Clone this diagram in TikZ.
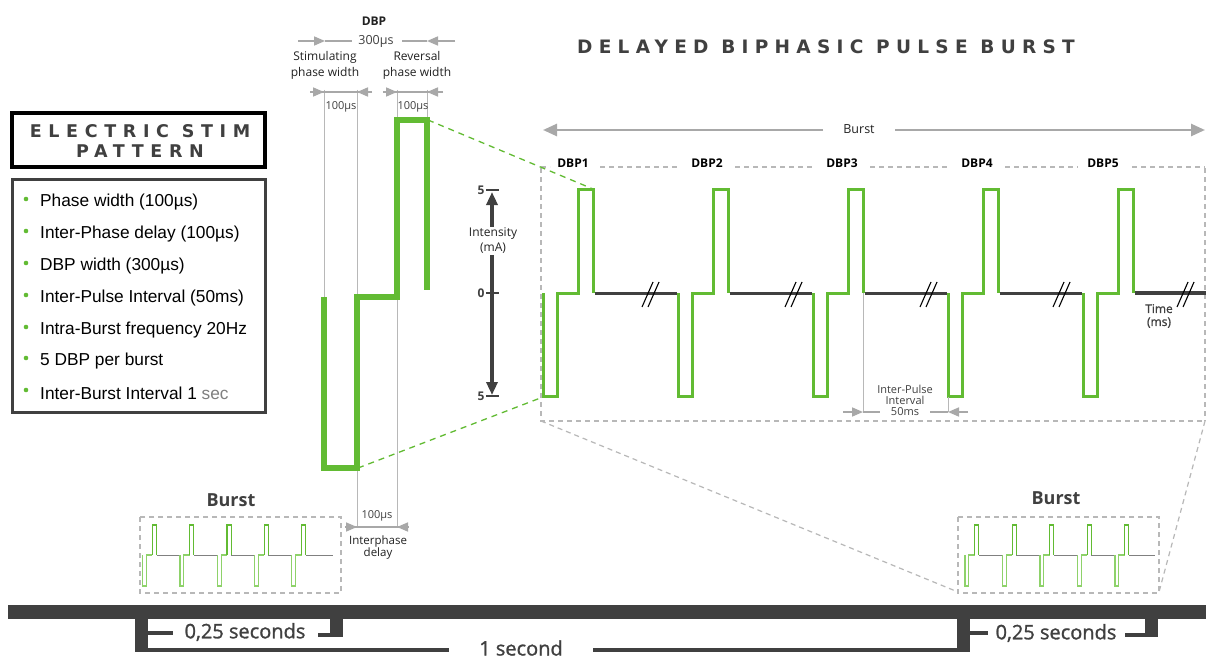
\documentclass[tikz,border=0pt]{standalone}
\usepackage{fontspec}
\setmainfont{Open Sans}
\newfontfamily\arialf{Liberation Sans}
\newfontfamily\titlef[LetterSpace=38]{DejaVu Sans}
\newfontfamily\titleg[LetterSpace=34]{DejaVu Sans}
\newfontfamily\osemi[FakeBold=1.2]{Open Sans}
\usetikzlibrary{arrows.meta}
\definecolor{grn}{HTML}{62BB33}
\definecolor{lgrn}{HTML}{8ED26A}
\definecolor{dk}{HTML}{404040}
\definecolor{lg}{HTML}{A8A8A8}
\definecolor{gl}{HTML}{B8B8B8}
\definecolor{txt}{HTML}{222222}
\newcommand\fs[2]{\fontsize{#1}{#2}\selectfont}
\begin{document}
\begin{tikzpicture}[x=1pt,y=-1pt,
  lbl/.style={text=txt, inner sep=0pt, align=center},
  guide/.style={draw=gl, line width=1pt},
  dimline/.style={draw=lg, line width=1.6pt},
  dimarrow/.style={draw=lg, line width=1.6pt, -{Triangle[length=11pt,width=9pt]}},
  wave/.style={draw=grn, line width=3pt, line join=miter},
  bigwave/.style={draw=grn, line width=5.5pt, line join=miter},
  base/.style={draw=dk, line width=3pt},
  gdash/.style={draw=gl, line width=1.2pt, dash pattern=on 5pt off 4pt},
  greendash/.style={draw=grn, line width=1.3pt, dash pattern=on 6pt off 5pt},
  brk/.style={draw=black, line width=1.1pt},
  smallwave/.style={draw=grn, line width=1.1pt},
  smallbase/.style={draw=gray, line width=1pt},
  bar/.style={fill=dk}]
\useasboundingbox (0,0) rectangle (1206,658);
\fill[white] (0,0) rectangle (1206,658);

% ---------- left panel ----------
\node[draw=black, line width=4pt, minimum width=253pt, minimum height=54pt, inner sep=0pt] (ttlbox) at (138.5,140) {};
\node[lbl, text=dk, font={\titlef\bfseries\fs{17.5}{20}}] (ttltxt) at (140,141) {ELECTRIC STIM\\PATTERN};
\node[draw=dk, line width=3pt, minimum width=253pt, minimum height=233pt, inner sep=0pt] (lstbox) at (138.5,295.5) {};
\foreach \yy/\tx [count=\k] in {202/Phase width (100µs), 234/Inter-Phase delay (100µs), 266/DBP width (300µs), 298/Inter-Pulse Interval (50ms), 330/Intra-Burst frequency 20Hz, 361/5 DBP per burst}{
  \fill[grn] (26,\yy-3) circle (2.3);
  \node[lbl, anchor=west, text=black, font={\arialf\fs{17.3}{20}}] (item\k) at (40,\yy) {\tx};
}
\fill[grn] (26,390) circle (2.3);
\node[lbl, anchor=west, text=black, font={\arialf\fs{17.3}{20}}] (item7) at (40,393) {Inter-Burst Interval 1 \textcolor{gray}{sec}};

% ---------- DBP detail ----------
\node[lbl, font={\bfseries\fs{12}{14}}] (dbpt) at (374,21) {DBP};
\node[lbl, text=dk, font={\fs{12.5}{14}}] (w300) at (376,41) {300µs};
\draw[dimarrow] (298,41) -- (325,41);
\draw[dimline] (325,41) -- (352,41);
\draw[dimarrow] (455,41) -- (427,41);
\draw[dimline] (427,41) -- (402,41);
\node[lbl, font={\fs{12}{16}}] (stim) at (325,65) {Stimulating\\phase width};
\node[lbl, font={\fs{12}{16}}] (rev) at (417,65) {Reversal\\phase width};

% guide lines
\draw[guide] (324,90) -- (324,297);
\draw[guide] (357,90) -- (357,527);
\draw[guide] (397,90) -- (397,527);
\draw[guide] (427,90) -- (427,118);

% 100us dims
\draw[dimline] (310,92) -- (372,92);
\draw[dimarrow] (310,92) -- (324,92);
\draw[dimarrow] (372,92) -- (357,92);
\draw[dimline] (383,92) -- (443,92);
\draw[dimarrow] (383,92) -- (397,92);
\draw[dimarrow] (443,92) -- (427,92);
\node[lbl, text=dk, font={\fs{11}{12}}] (p1) at (341,107) {100µs};
\node[lbl, text=dk, font={\fs{11}{12}}] (p2) at (413,107) {100µs};

% big waveform
\draw[bigwave] (324,297) -- (324,468) -- (357,468) -- (357,297) -- (397,297) -- (397,120) -- (427,120) -- (427,290);
\coordinate (bwtop) at (428,120);
\coordinate (bwbot) at (358,468);

% interphase delay
\draw[dimline] (345,527) -- (408,527);
\draw[dimarrow] (345,527) -- (357,527);
\draw[dimarrow] (408,527) -- (397,527);
\node[lbl, text=dk, font={\fs{11}{12}}] (p3) at (377,516) {100µs};
\node[lbl, font={\fs{11.5}{12}}] (ipd) at (378,548) {Interphase\\delay};

% ---------- right title ----------
\node[lbl, text=dk, font={\titleg\bfseries\fs{18.5}{20}}] (maintitle) at (826,47) {DELAYED BIPHASIC PULSE BURST};

% burst arrow
\node[lbl, font={\fs{12.5}{14}}] (burstlbl) at (859,129) {Burst};
\draw[lg, line width=2.5pt, -{Triangle[length=14pt,width=12pt]}] (823,130) -- (543,130);
\draw[lg, line width=2.5pt, -{Triangle[length=14pt,width=12pt]}] (895,130) -- (1205,130);

% DBP labels
\foreach \xx [count=\k] in {573,707,842,977,1103}{
  \node[lbl, text=black, font={\bfseries\fs{12}{14}}] (dbp\k) at (\xx,163) {DBP\k};
}
\foreach \a/\b in {541/550,600/678,735/813,870/950,1005/1078,1132/1205}{
  \draw[gdash] (\a,167) -- (\b,167);
}
% frame
\draw[gdash] (541,168) -- (541,421) -- (1205,421);
\draw[gdash] (1205,168) -- (1205,421);
\draw[gdash] (541,421) -- (958,592);
\draw[gdash] (1205,421) -- (1159,592);

% axis
\draw[dk, line width=3.5pt, {Triangle[length=13pt,width=11pt]}-{Triangle[length=13pt,width=11pt]}] (492,192) -- (492,395);
\foreach \yy in {190,293,396}{ \draw[dk, line width=2.5pt] (486,\yy) -- (499,\yy); }
\node[lbl, fill=white, inner sep=1.5pt, font={\fs{12}{15}}] (inten) at (493,241) {Intensity\\(mA)};
\node[lbl, text=dk, font={\bfseries\fs{12}{14}}] (a5) at (481,190) {5};
\node[lbl, text=dk, font={\bfseries\fs{12}{14}}] (a0) at (481,293) {0};
\node[lbl, text=dk, font={\bfseries\fs{12}{14}}] (a5b) at (481,396) {5};

% main waveform
\foreach \i in {0,...,4}{
  \pgfmathsetmacro\xa{543+135*\i}
  \draw[wave] (\xa,293) -- (\xa,396) -- (\xa+14,396) -- (\xa+14,293) -- (\xa+35,293) -- (\xa+35,189) -- (\xa+50,189) -- (\xa+50,293);
}
\foreach \i in {0,...,3}{
  \pgfmathsetmacro\xa{543+135*\i}
  \draw[base] (\xa+51.5,293) -- (\xa+133.5,293);
}
\draw[dk, line width=4.5pt] (1134.5,293) -- (1206,293);
\foreach \bx in {649,792,927,1060,1184}{
  \draw[brk] (\bx-7,307) -- (\bx+4,282);
  \draw[brk] (\bx-1,307) -- (\bx+10,282);
}
\node[lbl, text=dk, font={\osemi\fs{12}{13}}] (tms) at (1159,316) {Time\\(ms)};

% green zoom lines
\coordinate (d1top) at (593,189);
\coordinate (d1bot) at (543,397);
\draw[greendash] (bwtop) -- (d1top);
\draw[greendash] (bwbot) -- (d1bot);

% inter-pulse interval
\draw[guide] (863,293) -- (863,412);
\draw[guide] (948,397) -- (948,412);
\draw[dimarrow] (843,412) -- (863,412);
\draw[dimline] (863,412) -- (880,412);
\draw[dimline] (930,412) -- (948,412);
\draw[dimarrow] (968,412) -- (948,412);
\node[lbl, text=dk, font={\fs{11}{11}}] (ipi) at (905,400) {Inter-Pulse\\Interval\\50ms};

% ---------- small bursts ----------
\node[lbl, text=dk, font={\bfseries\fs{18}{20}}] (bl) at (231,500) {Burst};
\node[lbl, text=dk, font={\bfseries\fs{18}{20}}] (br) at (1056,498) {Burst};
\draw[gdash] (140,517) rectangle (341,593);
\draw[gdash] (958,517) rectangle (1159,593);
\foreach \xs/\per/\xend in {142.7/37.3/333, 965/37.5/1155}{
  \foreach \i in {0,...,4}{
    \pgfmathsetmacro\xa{\xs+\per*\i}
    \pgfmathsetmacro\xn{ifthenelse(\i==4,\xend,\xs+\per*(\i+1))}
    \draw[smallwave, draw=lgrn] (\xa,555) -- (\xa,586) -- (\xa+3.9,586) -- (\xa+3.9,555) -- (\xa+9.7,555);
    \draw[smallwave] (\xa+9.7,555) -- (\xa+9.7,525) -- (\xa+13.8,525) -- (\xa+13.8,555);
    \draw[smallbase] (\xa+13.8,555) -- (\xn,555);
  }
}

% ---------- time bar ----------
\fill[bar] (8,605) rectangle (1206,619);
\fill[bar] (135,619) rectangle (148,652);
\fill[bar] (148,648) rectangle (449,652);
\fill[bar] (593,648) rectangle (970,652);
\fill[bar] (957,619) rectangle (970,652);
\fill[bar] (148,631) rectangle (173,635);
\fill[bar] (318,633) rectangle (343,637);
\fill[bar] (330,619) rectangle (343,637);
\fill[bar] (970,631) rectangle (988,635);
\fill[bar] (1125,633) rectangle (1158,637);
\fill[bar] (1145,619) rectangle (1158,637);
\node[lbl, text=dk, font={\osemi\fs{20}{22}}] (q1) at (245,632) {0,25 seconds};
\node[lbl, text=dk, font={\osemi\fs{20}{22}}] (q2) at (521,648) {1 second};
\node[lbl, text=dk, font={\osemi\fs{20}{22}}] (q3) at (1056,633) {0,25 seconds};
\end{tikzpicture}
\end{document}
